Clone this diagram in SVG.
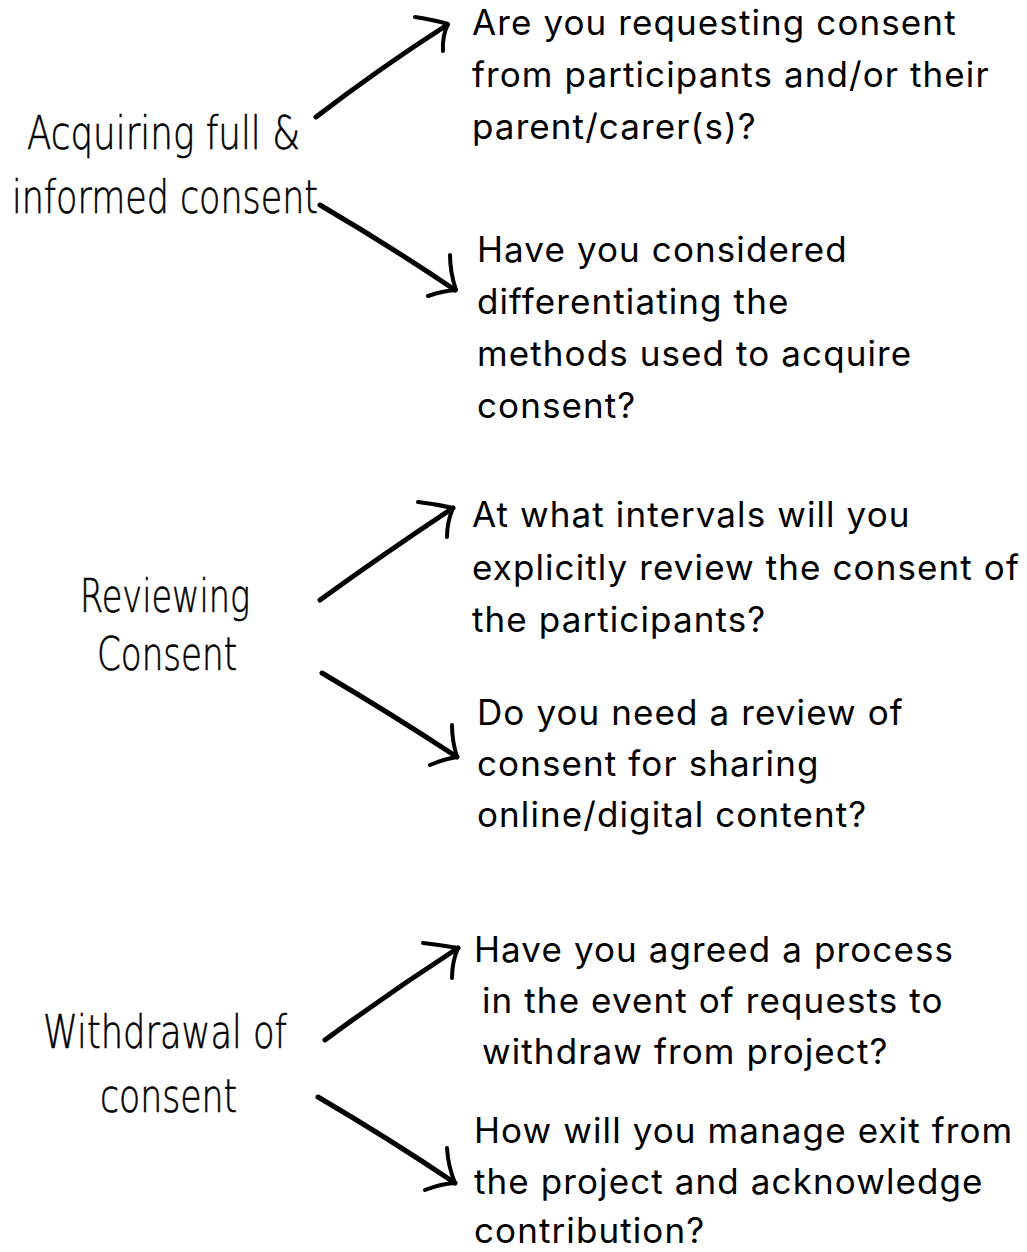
<svg xmlns="http://www.w3.org/2000/svg" width="1027" height="1252" viewBox="0 0 1027 1252">
<style>
.q{font-family:Inter,"Liberation Sans",sans-serif;font-size:35px;letter-spacing:1.1px;fill:#000;}
.h{font-family:"DejaVu Sans","Liberation Sans",sans-serif;font-weight:200;font-size:46px;fill:#000;stroke:#000;stroke-width:0.6px;}
.a{fill:none;stroke:#000;stroke-width:5;stroke-linecap:round;stroke-linejoin:round;}
.b{fill:none;stroke:#000;stroke-width:4;stroke-linecap:round;stroke-linejoin:round;}
</style>
<rect width="1027" height="1252" fill="#fff"/>
<g id="label-acquiring">
<text class="h" x="27" y="149" textLength="273" lengthAdjust="spacingAndGlyphs">Acquiring full &amp;</text>
<text class="h" x="12" y="213" textLength="306" lengthAdjust="spacingAndGlyphs">informed consent</text>
</g>
<g id="label-reviewing">
<text class="h" x="80" y="612" textLength="170" lengthAdjust="spacingAndGlyphs">Reviewing</text>
<text class="h" x="97" y="670" textLength="140" lengthAdjust="spacingAndGlyphs">Consent</text>
</g>
<g id="label-withdrawal">
<text class="h" x="43" y="1048" textLength="244" lengthAdjust="spacingAndGlyphs">Withdrawal of</text>
<text class="h" x="100" y="1112" textLength="137" lengthAdjust="spacingAndGlyphs">consent</text>
</g>
<g id="q1">
<text class="q" x="472" y="35">Are you requesting consent</text>
<text class="q" x="472" y="87">from participants and/or their</text>
<text class="q" x="472" y="139">parent/carer(s)?</text>
</g>
<g id="q2">
<text class="q" x="477" y="262">Have you considered</text>
<text class="q" x="477" y="314">differentiating the</text>
<text class="q" x="477" y="366">methods used to acquire</text>
<text class="q" x="477" y="418">consent?</text>
</g>
<g id="q3">
<text class="q" x="472" y="527">At what intervals will you</text>
<text class="q" x="472" y="580">explicitly review the consent of</text>
<text class="q" x="472" y="632">the participants?</text>
</g>
<g id="q4">
<text class="q" x="477" y="725">Do you need a review of</text>
<text class="q" x="477" y="776">consent for sharing</text>
<text class="q" x="477" y="827">online/digital content?</text>
</g>
<g id="q5">
<text class="q" x="474" y="962">Have you agreed a process</text>
<text class="q" x="482" y="1013">in the event of requests to</text>
<text class="q" x="482" y="1064">withdraw from project?</text>
</g>
<g id="q6">
<text class="q" x="474" y="1143">How will you manage exit from</text>
<text class="q" x="474" y="1194">the project and acknowledge</text>
<text class="q" x="474" y="1243">contribution?</text>
</g>
<g id="connectors">
<path class="a" d="M316,117 Q380,68 447,25"/>
<path class="b" d="M415,17 Q434,20 448,24 Q442,36 443,51"/>
<path class="a" d="M320,205 Q390,246 455,290"/>
<path class="b" d="M428,296 Q442,291 456,290 Q450,272 450,255"/>
<path class="a" d="M320,600 Q385,553 453,508"/>
<path class="b" d="M418,502 Q436,504 453,508 Q447,522 447,537"/>
<path class="a" d="M322,673 Q390,713 457,757"/>
<path class="b" d="M430,765 Q444,759 457,757 Q452,741 452,725"/>
<path class="a" d="M325,1040 Q390,992 458,948"/>
<path class="b" d="M423,943 Q441,945 458,948 Q452,962 452,978"/>
<path class="a" d="M318,1097 Q388,1138 455,1183"/>
<path class="b" d="M425,1190 Q440,1184 455,1183 Q448,1166 447,1148"/>
</g>
</svg>
